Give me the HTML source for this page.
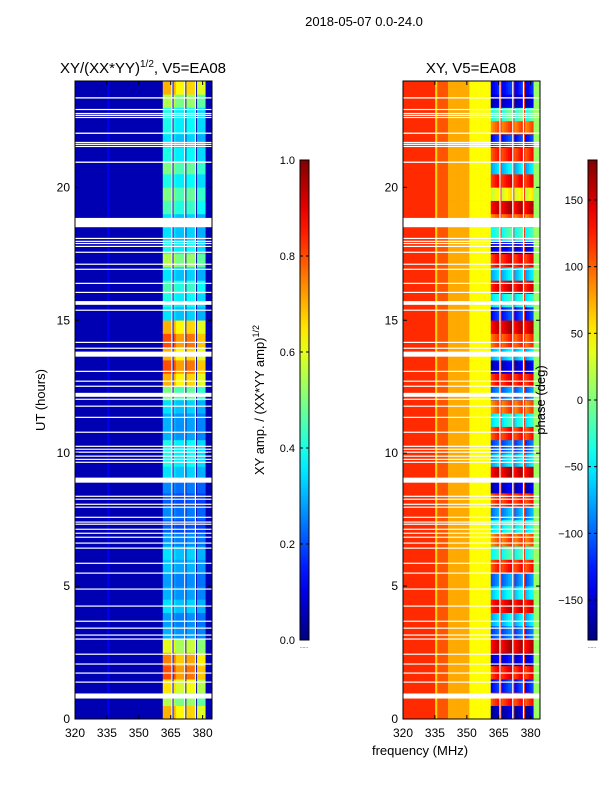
<!DOCTYPE html>
<html><head><meta charset="utf-8"><style>
body{margin:0;background:#fff;width:600px;height:800px;overflow:hidden}
svg text{font-family:"Liberation Sans",sans-serif;fill:#000}
</style></head><body>
<svg id="fig" width="600" height="800" xmlns="http://www.w3.org/2000/svg">
<text x="364" y="26" font-size="13" text-anchor="middle">2018-05-07 0.0-24.0</text>
<text x="143" y="73" font-size="15" text-anchor="middle">XY/(XX*YY)<tspan font-size="10" dy="-6">1/2</tspan><tspan dy="6">, V5=EA08</tspan></text>
<text x="471" y="73" font-size="15" text-anchor="middle">XY, V5=EA08</text>
<text transform="translate(45,400) rotate(-90)" font-size="13" text-anchor="middle">UT (hours)</text>
<text x="420" y="755" font-size="13" text-anchor="middle">frequency (MHz)</text>
<text transform="translate(264,400) rotate(-90)" font-size="13" text-anchor="middle">XY amp. / (XX*YY amp)<tspan font-size="9" dy="-5">1/2</tspan></text>
<g id="cells"></g>
<g id="overlay"></g>
<text transform="translate(545,400) rotate(-90)" font-size="13" text-anchor="middle">phase (deg)</text>
</svg>
<script>
const categoriesChannels = 64;
const freqRange = [320, 384.4];
const timeAmp = [0.7,0.55,0.65,0.8,0.75,0.6,0.3,0.28,0.35,0.3,0.28,0.32,0.35,0.28,0.22,0.26,0.22,0.26,0.35,0.4,0.4,0.3,0.3,0.35,0.5,0.7,0.8,0.7,0.8,0.7,0.35,0.4,0.45,0.35,0.55,0.4,0.35,0.35,0.45,0.5,0.4,0.5,0.4,0.35,0.4,0.4,0.55,0.7];
const timePhase = [-160,120,-120,130,-140,150,-100,-60,140,-50,-90,120,-30,100,-40,-80,120,-150,150,-60,-100,120,-40,100,-90,130,-150,-60,110,150,-120,-40,140,-60,130,-140,-30,100,150,40,130,-60,120,-120,100,-20,-150,-130];
const bandChannels = [41,42,43,44,46,47,48,49,50,52,53,54,55,57,58,59,60];
const flaggedChannels = [45,51,56];
const blockGain = [1.0,0.9,0.95,0.85];
const bandPhaseOffset = [-15,-8,0,8,-12,-4,4,12,18,-14,-4,6,14,-16,-6,4,12];
const basePhaseRanges = [[0,14,120],[15,15,60],[16,20,105],[21,30,75],[31,40,45],[61,63,10]];
const baseAmp = 0.05;
const gaps = [[23.34,23.39],[22.91,22.95],[22.76,22.8],[22.69,22.73],[22.61,22.65],[22.01,22.06],[21.67,21.71],[21.6,21.64],[21.52,21.56],[20.92,20.97],[18.5,18.85],[18.06,18.1],[17.95,17.99],[17.87,17.91],[17.76,17.8],[17.54,17.58],[17.09,17.13],[16.9,16.94],[16.37,16.41],[16.03,16.07],[15.58,15.72],[15.36,15.4],[14.15,14.19],[13.93,13.97],[13.63,13.82],[13.06,13.1],[12.69,12.73],[12.5,12.54],[12.12,12.27],[12.01,12.05],[11.75,11.79],[11.33,11.37],[10.77,10.81],[10.24,10.28],[10.13,10.17],[10.02,10.06],[9.87,9.91],[9.75,9.79],[9.64,9.68],[8.89,9.08],[8.36,8.4],[8.25,8.29],[8.06,8.1],[7.95,7.99],[7.57,7.61],[7.39,7.43],[7.31,7.35],[7.12,7.16],[6.97,7.01],[6.82,6.86],[6.6,6.64],[6.41,6.45],[5.84,5.88],[5.47,5.51],[4.87,4.91],[4.23,4.27],[3.66,3.7],[3.4,3.44],[3.14,3.18],[2.99,3.03],[2.42,2.46],[2.05,2.09],[1.71,1.75],[1.37,1.41],[0.77,0.96]];
const xTicks = [320,335,350,365,380];
const yTicks = [0,5,10,15,20];
const ampTicks = ["0.0","0.2","0.4","0.6","0.8","1.0"];
const phaseTicks = [-150,-100,-50,0,50,100,150];

const NS="http://www.w3.org/2000/svg";
const panels=[{x0:75,x1:212,kind:'amp',name:'amp'},{x0:403,x1:540,kind:'phase',name:'phase'}];
const Y0=719,Y1=81;
const ys=t=>Y0-(t/24)*(Y0-Y1);
function jet(v){v=Math.max(0,Math.min(1,v));const c=x=>Math.round(255*Math.max(0,Math.min(1,1.5-Math.abs(x))));return `rgb(${c(4*v-3)},${c(4*v-2)},${c(4*v-1)})`;}
function mk(tag,attrs,parent){const e=document.createElementNS(NS,tag);for(const k in attrs)e.setAttribute(k,attrs[k]);parent.appendChild(e);return e;}
const cells=document.getElementById('cells'),ov=document.getElementById('overlay');
function wrap(p){while(p>180)p-=360;while(p<-180)p+=360;return p;}
function basePhase(ch){for(const r of basePhaseRanges)if(ch>=r[0]&&ch<=r[1])return r[2];return 50;}
const df=(freqRange[1]-freqRange[0])/categoriesChannels;
panels.forEach(P=>{
  const xs=f=>P.x0+(f-freqRange[0])/(freqRange[1]-freqRange[0])*(P.x1-P.x0);
  const bg=mk('rect',{x:P.x0,y:Y1,width:P.x1-P.x0,height:Y0-Y1,fill:P.kind==='amp'?jet(baseAmp):jet((basePhase(0)+180)/360)},cells);
  
  
  for(let ti=0;ti<timeAmp.length;ti++){
    for(let ch=0;ch<categoriesChannels;ch++){
      if(flaggedChannels.includes(ch))continue;
      const bi=bandChannels.indexOf(ch);
      let v;
      if(P.kind==='amp'){
        if(bi<0){v=baseAmp+(ch===15?0.06:0);}
        else v=timeAmp[ti]*blockGain[Math.min(3,Math.floor(bi/4.3))];
      }else{
        if(bi<0)v=(basePhase(ch)+180)/360;
        else v=(wrap(timePhase[ti]+bandPhaseOffset[bi])+180)/360;
      }
      const r=mk('rect',{x:xs(freqRange[0]+ch*df).toFixed(2),y:ys((ti+1)/2).toFixed(2),width:(df/(freqRange[1]-freqRange[0])*(P.x1-P.x0)+0.3).toFixed(2),height:(ys(0)-ys(0.5)+0.3).toFixed(2),fill:jet(v)},cells);
      
      
    }
  }
  flaggedChannels.forEach(ch=>{
    const r=mk('rect',{x:xs(freqRange[0]+ch*df),y:Y1,width:1.2,height:Y0-Y1,fill:'#fff'},ov);
    
    
  });
  gaps.forEach(g=>{
    const r=mk('rect',{x:P.x0,y:ys(g[1]),width:P.x1-P.x0,height:Math.max(1.2,ys(g[0])-ys(g[1])),fill:'#fff'},ov);
    
    
  });
  const fr=mk('rect',{x:P.x0,y:Y1,width:P.x1-P.x0,height:Y0-Y1,fill:'none',stroke:'#000','stroke-width':1},ov);
  
  
  xTicks.forEach(f=>{
    const x=xs(f);
    mk('line',{x1:x,x2:x,y1:Y0,y2:Y0-4,stroke:'#000'},ov);
    mk('line',{x1:x,x2:x,y1:Y1,y2:Y1+4,stroke:'#000'},ov);
    const t=mk('text',{x:x,y:Y0+18,'font-size':12,'text-anchor':'middle'},ov);t.textContent=f;
    
    
  });
  yTicks.forEach(h=>{
    const y=ys(h);
    mk('line',{x1:P.x0,x2:P.x0+4,y1:y,y2:y,stroke:'#000'},ov);
    mk('line',{x1:P.x1,x2:P.x1-4,y1:y,y2:y,stroke:'#000'},ov);
    const t=mk('text',{x:P.x0-5,y:y+4,'font-size':12,'text-anchor':'end'},ov);t.textContent=h;
    
    
  });
});
const svg=document.getElementById('fig');
const defs=mk('defs',{},svg);
const grad=mk('linearGradient',{id:'jetg',x1:0,y1:1,x2:0,y2:0},defs);
for(let i=0;i<=20;i++)mk('stop',{offset:i/20,'stop-color':jet(i/20)},grad);
const CB0=640,CB1=160;
[{x:300,name:'amp-colorbar',ticks:ampTicks.map(Number),lbl:ampTicks,min:0,max:1},{x:588,name:'phase-colorbar',ticks:phaseTicks,lbl:phaseTicks.map(v=>v<0?'\u2212'+(-v):''+v),min:-180,max:180}].forEach(C=>{
  const r=mk('rect',{x:C.x,y:CB1,width:9,height:CB0-CB1,fill:'url(#jetg)',stroke:'#000','stroke-width':1},svg);
  
  
  C.ticks.forEach((v,i)=>{
    const y=CB0-(v-C.min)/(C.max-C.min)*(CB0-CB1);
    mk('line',{x1:C.x,x2:C.x+3,y1:y,y2:y,stroke:'#000'},svg);
    mk('line',{x1:C.x+9,x2:C.x+6,y1:y,y2:y,stroke:'#000'},svg);
    const t=mk('text',{x:C.x-5,y:y+4,'font-size':11,'text-anchor':'end'},svg);t.textContent=C.lbl[i];
    
    
  });
  const d=mk('text',{x:C.x+4,y:CB0+8,'font-size':5,'text-anchor':'middle',fill:'#999'},svg);d.textContent='......';
  
  
});
</script>
</body></html>
